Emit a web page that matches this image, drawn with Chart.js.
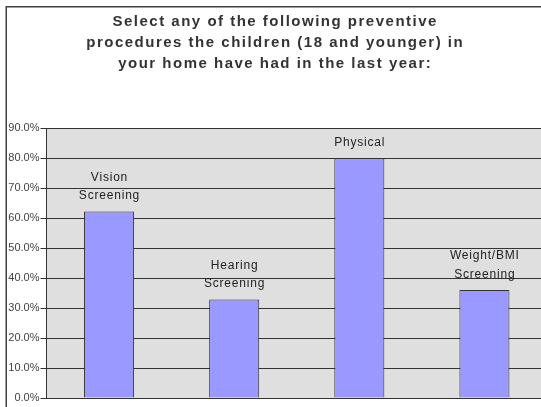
<!DOCTYPE html>
<html><head><meta charset="utf-8">
<script src="https://cdn.jsdelivr.net/npm/chart.js@4"></script>
<style>
html,body{margin:0;padding:0;background:#fff;overflow:hidden;width:541px;height:407px}
#wrap{width:560px;height:407px}
</style></head>
<body><div id="wrap"><canvas id="c" width="560" height="407"></canvas></div>
<script>
const titleLines = [
  "Select any of the following preventive",
  "procedures the children (18 and younger) in",
  "your home have had in the last year:"
];
const categories = [["Vision","Screening"],["Hearing","Screening"],["Physical"],["Weight/BMI","Screening"]];
const values = [62.2, 32.8, 79.9, 36.0];
const yMin = 0, yMax = 90, yStep = 10;

const framePlugin = {
  id: 'frame',
  beforeDraw(chart) {
    const {ctx, chartArea: a} = chart;
    ctx.save();
    ctx.fillStyle = '#ffffff';
    ctx.fillRect(0, 0, chart.width, chart.height);
    ctx.fillStyle = '#dfdfdf';
    ctx.fillRect(a.left, a.top, a.right - a.left, a.bottom - a.top);
    ctx.strokeStyle = '#404040';
    ctx.lineWidth = 1.5;
    ctx.strokeRect(6.25, 6.75, chart.width, chart.height);
    ctx.restore();
  }
};

const titlePlugin = {
  id: 'customTitle',
  afterDraw(chart) {
    const ctx = chart.ctx;
    ctx.save();
    ctx.font = 'bold 15px "Liberation Sans", Arial, sans-serif';
    ctx.fillStyle = '#333333';
    ctx.textAlign = 'center';
    ctx.textBaseline = 'middle';
    ctx.letterSpacing = '1.5px';
    titleLines.forEach((t, i) => ctx.fillText(t, 275.2, 22 + i * 21));
    ctx.restore();
  }
};

const barLabelPlugin = {
  id: 'barLabels',
  afterDatasetsDraw(chart) {
    const ctx = chart.ctx;
    const meta = chart.getDatasetMeta(0);
    ctx.save();
    ctx.font = '12px "Liberation Sans", Arial, sans-serif';
    ctx.fillStyle = '#222222';
    ctx.textAlign = 'center';
    ctx.textBaseline = 'middle';
    ctx.letterSpacing = '0.8px';
    meta.data.forEach((bar, i) => {
      const lines = chart.data.labels[i];
      const n = lines.length;
      lines.forEach((ln, j) => {
        ctx.fillText(ln, bar.x + 0.4, bar.y - 15.5 - (n - 1 - j) * 18.5);
      });
    });
    ctx.restore();
  }
};

new Chart(document.getElementById('c'), {
  type: 'bar',
  data: {
    labels: categories,
    datasets: [{
      data: values,
      backgroundColor: '#9999ff',
      borderColor: '#333333',
      borderWidth: 1,
      barPercentage: 0.4,
      categoryPercentage: 1.0
    }]
  },
  options: {
    responsive: false,
    animation: false,
    layout: { padding: { top: 128, left: 8, right: 13, bottom: 9 } },
    plugins: {
      legend: { display: false },
      title: { display: false },
      tooltip: { enabled: false }
    },
    scales: {
      x: {
        grid: { display: false, drawTicks: false },
        ticks: { display: false },
        border: { display: true, color: '#333333', width: 1 }
      },
      y: {
        min: yMin,
        max: yMax,
        ticks: {
          stepSize: yStep,
          callback: v => v.toFixed(1) + '%',
          color: '#444444',
          font: { family: '"Liberation Sans", Arial, sans-serif', size: 11 },
          padding: 1
        },
        grid: { color: '#333333', tickLength: 6, drawTicks: true },
        border: { color: '#333333', width: 1 },
        afterFit(s) { s.width = 38.5; }
      }
    }
  },
  plugins: [framePlugin, titlePlugin, barLabelPlugin]
});
</script>
</body></html>
